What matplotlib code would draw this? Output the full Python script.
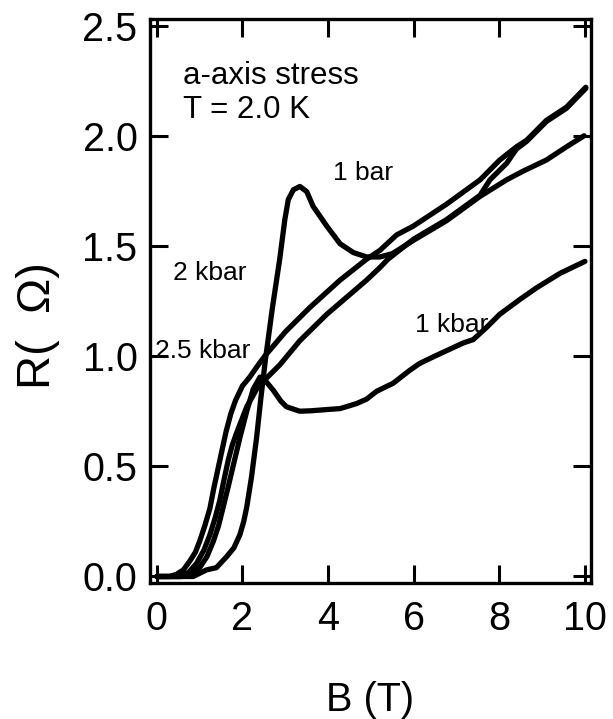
import matplotlib
matplotlib.use("Agg")
import matplotlib.pyplot as plt

plt.rcParams['font.family'] = ['Liberation Sans', 'DejaVu Sans']

# 2.5 kbar
b25 = [0.0, 0.3, 0.46, 0.62, 0.77, 0.9, 1.0, 1.12, 1.24, 1.33, 1.43, 1.53, 1.62,
       1.73, 1.84, 2.0, 2.17, 2.35, 2.52, 3.0, 3.57, 4.28, 4.9, 5.21, 5.6, 5.99,
       6.77, 7.55, 8.01, 8.40, 8.64, 9.1, 9.57, 10.02]
r25 = [0.0, 0.0, 0.01, 0.03, 0.07, 0.11, 0.16, 0.23, 0.31, 0.40, 0.49, 0.58, 0.66,
       0.74, 0.80, 0.865, 0.905, 0.955, 1.0, 1.11, 1.22, 1.345, 1.44, 1.48, 1.55,
       1.59, 1.69, 1.80, 1.89, 1.95, 1.98, 2.07, 2.13, 2.22]

# 2 kbar
b2 = [0.0, 0.54, 0.75, 0.93, 1.1, 1.24, 1.36, 1.47, 1.57, 1.67, 1.76, 1.86, 2.10,
      2.33, 2.56, 2.87, 3.34, 3.97, 4.45, 4.9, 5.2, 5.4, 5.99, 6.77, 7.55, 7.78,
      8.17, 8.40, 8.64, 9.1, 9.57, 10.02]
r2 = [0.0, 0.0, 0.02, 0.06, 0.12, 0.19, 0.265, 0.345, 0.44, 0.53, 0.595, 0.65,
      0.77, 0.85, 0.9, 0.96, 1.07, 1.19, 1.27, 1.345, 1.40, 1.44, 1.53, 1.62,
      1.73, 1.80, 1.875, 1.94, 1.975, 2.065, 2.125, 2.215]

# 1 bar
b1b = [0.0, 0.85, 1.16, 1.39, 1.63, 1.8, 1.94, 2.03, 2.10, 2.21, 2.33, 2.43,
       2.54, 2.70, 2.87, 2.99, 3.07, 3.19, 3.34, 3.50, 3.65, 3.97, 4.28, 4.59,
       4.90, 5.21, 5.5, 5.99, 6.77, 7.55, 8.17, 8.56, 9.1, 9.57, 9.98]
r1b = [0.0, 0.0, 0.03, 0.04, 0.09, 0.13, 0.19, 0.25, 0.315, 0.45, 0.63, 0.81,
       0.99, 1.22, 1.44, 1.62, 1.71, 1.755, 1.77, 1.747, 1.68, 1.59, 1.51, 1.47,
       1.45, 1.45, 1.465, 1.525, 1.615, 1.725, 1.80, 1.84, 1.89, 1.95, 2.0]

# 1 kbar
b1k = [0.0, 0.6, 0.8, 1.0, 1.17, 1.32, 1.44, 1.55, 1.67, 1.78, 1.94, 2.10, 2.25,
       2.41, 2.55, 2.72, 2.9, 3.03, 3.34, 3.6, 4.0, 4.28, 4.67, 4.9, 5.13, 5.52,
       5.91, 6.14, 6.46, 7.16, 7.39, 7.70, 8.01, 8.5, 8.87, 9.42, 10.0]
r1k = [0.0, 0.0, 0.015, 0.04, 0.09, 0.16, 0.23, 0.315, 0.41, 0.5, 0.63, 0.75,
       0.85, 0.905, 0.885, 0.845, 0.795, 0.77, 0.75, 0.752, 0.758, 0.762, 0.785,
       0.805, 0.84, 0.877, 0.936, 0.967, 0.997, 1.06, 1.075, 1.13, 1.19, 1.26,
       1.31, 1.376, 1.43]

xticks = [0, 2, 4, 6, 8, 10]
yticks = [0.0, 0.5, 1.0, 1.5, 2.0, 2.5]

fig = plt.figure(figsize=(6.13, 7.19), dpi=100)
ax = fig.add_axes([0.2447, 0.189, 0.7193, 0.7846])

for b, r in [(b25, r25), (b2, r2), (b1b, r1b), (b1k, r1k)]:
    ax.plot(b, r, color='black', lw=3.8, solid_capstyle='round',
            solid_joinstyle='round')

ax.set_xlim(-0.16, 10.14)
ax.set_ylim(-0.03, 2.53)
ax.set_xticks(xticks)
ax.set_xticklabels([str(t) for t in xticks])
ax.set_yticks(yticks)
ax.set_yticklabels(['%.1f' % t for t in yticks])
ax.tick_params(direction='in', length=13, width=2.2, top=True, right=True,
               labelsize=28.5)
ax.tick_params(axis='x', pad=12)
ax.tick_params(axis='y', pad=9)
for s in ax.spines.values():
    s.set_linewidth(2.4)

ax.set_xlabel('B (T)', fontsize=28.5, labelpad=31)
ax.set_ylabel('R(  \u03a9)', fontsize=34)
ax.yaxis.set_label_coords(-0.205, 0.457)

ax.text(0.62, 2.236, 'a-axis stress', fontsize=22.5, va='baseline')
ax.text(0.62, 2.08, 'T = 2.0 K', fontsize=22.5, va='baseline')
ax.text(4.11, 1.80, '1 bar', fontsize=19, va='baseline')
ax.text(0.38, 1.345, '2 kbar', fontsize=19, va='baseline')
ax.text(-0.05, 0.99, '2.5 kbar', fontsize=19, va='baseline')
ax.text(6.03, 1.11, '1 kbar', fontsize=19, va='baseline')

fig.savefig('out.png', dpi=100)
